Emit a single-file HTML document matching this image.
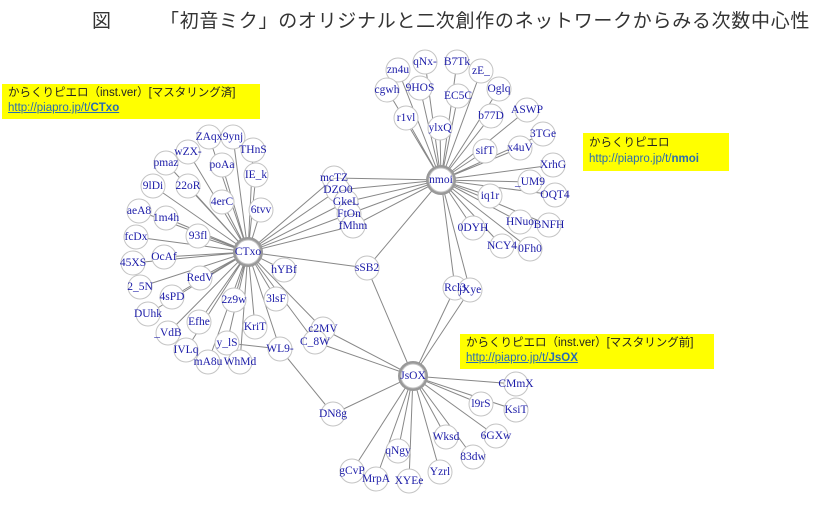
<!DOCTYPE html>
<html><head><meta charset="utf-8"><style>
body{margin:0;background:#fff;width:831px;height:510px;overflow:hidden;position:relative;font-family:"Liberation Sans","Noto Sans CJK JP",sans-serif}
.t{position:absolute;top:6px;font-size:19px;color:#333;white-space:nowrap}
.box{position:absolute;background:#ffff00;font-size:11.5px;line-height:15px;padding:2px 6px;color:#222;white-space:nowrap}
.box a{color:#2a6db0;text-decoration:underline}
svg{position:absolute;left:0;top:0}
</style></head><body>
<div class="t" style="left:92px">図</div>
<div class="t" style="left:160px;letter-spacing:0.7px">「初音ミク」のオリジナルと二次創作のネットワークからみる次数中心性</div>
<svg width="831" height="510" font-family="Liberation Serif,serif" font-size="11.5">
<g stroke="#888" stroke-width="1" fill="none">
<path d="M248,252L209,137M248,252L233,137M248,252L188,152M248,252L253,150M248,252L166,163M248,252L222,165M248,252L256,175M248,252L153,186M248,252L188,186M248,252L222,202M248,252L261,210M248,252L139,211M248,252L166,218M248,252L198,236M248,252L136,237M248,252L133,263M248,252L164,257M248,252L140,287M248,252L200,278M248,252L172,297M248,252L148,314M248,252L284,270M248,252L276,299M248,252L234,300M248,252L199,322M248,252L255,327M248,252L168,333M248,252L227,343M248,252L186,350M248,252L280,349M248,252L208,362M248,252L240,362M248,252L323,329M248,252L315,342M248,252L367,268"/>
<path d="M441,180L398,70M441,180L425,62M441,180L457,62M441,180L481,71M441,180L387,90M441,180L420,88M441,180L458,96M441,180L499,89M441,180L406,118M441,180L491,116M441,180L527,110M441,180L440,128M441,180L543,134M441,180L485,151M441,180L520,148M441,180L553,165M441,180L530,182M441,180L555,195M441,180L490,196M441,180L520,222M441,180L549,225M441,180L473,228M441,180L502,246M441,180L530,249M441,180L367,268M441,180L455,288M441,180L470,290"/>
<path d="M248,252L334,178L441,180M248,252L338,190L441,180M248,252L346,202L441,180M248,252L349,214L441,180M248,252L353,226L441,180"/>
<path d="M413,376L516,384M413,376L481,404M413,376L516,410M413,376L446,437M413,376L496,436M413,376L473,457M413,376L398,451M413,376L440,472M413,376L352,471M413,376L376,479M413,376L409,481M413,376L367,268M413,376L455,288M413,376L470,290M413,376L323,329M413,376L315,342M413,376L333,414M333,414L280,349M227,343L280,349"/>
</g>
<g fill="#999">
<circle cx="248" cy="252" r="15"/><circle cx="441" cy="180" r="15"/><circle cx="413" cy="376" r="15"/>
</g>
<g fill="#fff" stroke="#c4c4c4" stroke-width="1">
<circle cx="248" cy="252" r="12"/><circle cx="441" cy="180" r="12"/><circle cx="413" cy="376" r="12"/>
<circle cx="209" cy="137" r="12"/><circle cx="233" cy="137" r="12"/><circle cx="188" cy="152" r="12"/><circle cx="253" cy="150" r="12"/><circle cx="166" cy="163" r="12"/><circle cx="222" cy="165" r="12"/><circle cx="256" cy="175" r="12"/><circle cx="153" cy="186" r="12"/><circle cx="188" cy="186" r="12"/><circle cx="222" cy="202" r="12"/><circle cx="261" cy="210" r="12"/><circle cx="139" cy="211" r="12"/><circle cx="166" cy="218" r="12"/><circle cx="198" cy="236" r="12"/><circle cx="136" cy="237" r="12"/><circle cx="133" cy="263" r="12"/><circle cx="164" cy="257" r="12"/><circle cx="140" cy="287" r="12"/><circle cx="200" cy="278" r="12"/><circle cx="172" cy="297" r="12"/><circle cx="148" cy="314" r="12"/><circle cx="284" cy="270" r="12"/><circle cx="276" cy="299" r="12"/><circle cx="234" cy="300" r="12"/><circle cx="199" cy="322" r="12"/><circle cx="255" cy="327" r="12"/><circle cx="168" cy="333" r="12"/><circle cx="227" cy="343" r="12"/><circle cx="186" cy="350" r="12"/><circle cx="280" cy="349" r="12"/><circle cx="208" cy="362" r="12"/><circle cx="240" cy="362" r="12"/><circle cx="323" cy="329" r="12"/><circle cx="315" cy="342" r="12"/><circle cx="333" cy="414" r="12"/>
<circle cx="398" cy="70" r="12"/><circle cx="425" cy="62" r="12"/><circle cx="457" cy="62" r="12"/><circle cx="481" cy="71" r="12"/><circle cx="387" cy="90" r="12"/><circle cx="420" cy="88" r="12"/><circle cx="458" cy="96" r="12"/><circle cx="499" cy="89" r="12"/><circle cx="406" cy="118" r="12"/><circle cx="491" cy="116" r="12"/><circle cx="527" cy="110" r="12"/><circle cx="440" cy="128" r="12"/><circle cx="543" cy="134" r="12"/><circle cx="485" cy="151" r="12"/><circle cx="520" cy="148" r="12"/><circle cx="553" cy="165" r="12"/><circle cx="334" cy="178" r="12"/><circle cx="338" cy="190" r="12"/><circle cx="530" cy="182" r="12"/><circle cx="555" cy="195" r="12"/><circle cx="346" cy="202" r="12"/><circle cx="490" cy="196" r="12"/><circle cx="349" cy="214" r="12"/><circle cx="520" cy="222" r="12"/><circle cx="549" cy="225" r="12"/><circle cx="353" cy="226" r="12"/><circle cx="473" cy="228" r="12"/><circle cx="502" cy="246" r="12"/><circle cx="530" cy="249" r="12"/>
<circle cx="367" cy="268" r="12"/><circle cx="455" cy="288" r="12"/><circle cx="470" cy="290" r="12"/>
<circle cx="516" cy="384" r="12"/><circle cx="481" cy="404" r="12"/><circle cx="516" cy="410" r="12"/><circle cx="446" cy="437" r="12"/><circle cx="496" cy="436" r="12"/><circle cx="473" cy="457" r="12"/><circle cx="398" cy="451" r="12"/><circle cx="440" cy="472" r="12"/><circle cx="352" cy="471" r="12"/><circle cx="376" cy="479" r="12"/><circle cx="409" cy="481" r="12"/>
</g>
<g fill="#1c1ca8" text-anchor="middle" dominant-baseline="central">
<text x="248" y="252">CTxo</text><text x="441" y="180">nmoi</text><text x="413" y="376">JsOX</text>
<text x="209" y="137">ZAqx</text><text x="233" y="137">9ynj</text><text x="188" y="152">wZX-</text><text x="253" y="150">THnS</text><text x="166" y="163">pmaz</text><text x="222" y="165">poAa</text><text x="256" y="175">IE_k</text><text x="153" y="186">9lDi</text><text x="188" y="186">22oR</text><text x="222" y="202">4erC</text><text x="261" y="210">6tvv</text><text x="139" y="211">aeA8</text><text x="166" y="218">1m4h</text><text x="198" y="236">93fl</text><text x="136" y="237">fcDx</text><text x="133" y="263">45XS</text><text x="164" y="257">OcAf</text><text x="140" y="287">2_5N</text><text x="200" y="278">RedV</text><text x="172" y="297">4sPD</text><text x="148" y="314">DUhk</text><text x="284" y="270">hYBf</text><text x="276" y="299">3lsF</text><text x="234" y="300">2z9w</text><text x="199" y="322">Efhe</text><text x="255" y="327">KriT</text><text x="168" y="333">_VdB</text><text x="227" y="343">y_lS</text><text x="186" y="350">IVLq</text><text x="280" y="349">WL9-</text><text x="208" y="362">mA8u</text><text x="240" y="362">WhMd</text><text x="323" y="329">c2MV</text><text x="315" y="342">C_8W</text><text x="333" y="414">DN8g</text>
<text x="398" y="70">zn4u</text><text x="425" y="62">qNx-</text><text x="457" y="62">B7Tk</text><text x="481" y="71">zE_</text><text x="387" y="90">cgwh</text><text x="420" y="88">9HOS</text><text x="458" y="96">EC5C</text><text x="499" y="89">Oglq</text><text x="406" y="118">r1vl</text><text x="491" y="116">b77D</text><text x="527" y="110">ASWP</text><text x="440" y="128">ylxQ</text><text x="543" y="134">3TGe</text><text x="485" y="151">sifT</text><text x="520" y="148">x4uV</text><text x="553" y="165">XrhG</text><text x="334" y="178">mcTZ</text><text x="338" y="190">DZO0</text><text x="530" y="182">_UM9</text><text x="555" y="195">OQT4</text><text x="346" y="202">GkeL</text><text x="490" y="196">iq1r</text><text x="349" y="214">FtOn</text><text x="520" y="222">HNuo</text><text x="549" y="225">BNFH</text><text x="353" y="226">fMhm</text><text x="473" y="228">0DYH</text><text x="502" y="246">NCY4</text><text x="530" y="249">0Fh0</text>
<text x="367" y="268">sSB2</text><text x="455" y="288">Rcl3</text><text x="470" y="290">jXye</text>
<text x="516" y="384">CMmX</text><text x="481" y="404">l9rS</text><text x="516" y="410">KsiT</text><text x="446" y="437">Wksd</text><text x="496" y="436">6GXw</text><text x="473" y="457">83dw</text><text x="398" y="451">qNgy</text><text x="440" y="472">Yzrl</text><text x="352" y="471">gCvP</text><text x="376" y="479">MrpA</text><text x="409" y="481">XYEe</text>
</g>
</svg>
<div class="box" style="left:2px;top:84px;width:246px;height:31px">からくりピエロ（inst.ver）[マスタリング済]<br><a>http://piapro.jp/t/<b>CTxo</b></a></div>
<div class="box" style="left:583px;top:133px;width:134px;height:34px;line-height:16px;padding-top:2px">からくりピエロ<br><a style="text-decoration:none">http://piapro.jp/t/<b>nmoi</b></a></div>
<div class="box" style="left:460px;top:334px;width:242px;height:31px">からくりピエロ（inst.ver）[マスタリング前]<br><a>http://piapro.jp/t/<b>JsOX</b></a></div>
</body></html>
